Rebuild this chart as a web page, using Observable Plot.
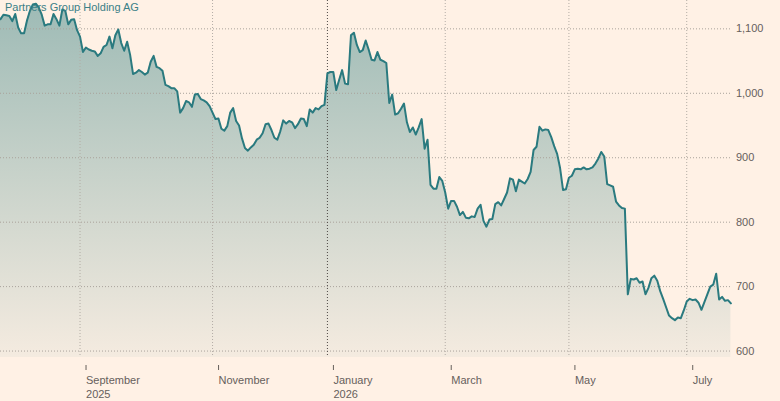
<!DOCTYPE html>
<html>
<head>
<meta charset="utf-8">
<script src="https://cdn.jsdelivr.net/npm/d3@7"></script>
<script src="https://cdn.jsdelivr.net/npm/@observablehq/plot@0.6"></script>
<style>
  html, body { margin: 0; padding: 0; background: #fff1e5; }
  #wrap { position: relative; width: 780px; height: 401px; overflow: hidden; }
  #title { position: absolute; left: 5px; top: 2px; font: 11px/11px "Liberation Sans", Arial, sans-serif; color: #3b8087; white-space: nowrap; }
</style>
</head>
<body>
<div id="wrap">
  <div id="chart"></div>
  <div id="title">Partners Group Holding AG</div>
</div>
<script>
// Daily closing prices (CHF), one per SIX trading day, from 23 Jul 2025 onward
const prices = [
  1115, 1122, 1121, 1120, 1112, 1123, 1102, 1093, 1093, 1113,
  1128, 1138, 1139, 1133, 1122, 1105, 1107, 1107, 1123, 1115,
  1105, 1130, 1128, 1107, 1114, 1115, 1098, 1088, 1064, 1071,
  1068, 1066, 1065, 1058, 1062, 1072, 1075, 1088, 1070, 1090,
  1099, 1078, 1066, 1080, 1060, 1030, 1032, 1036, 1033, 1029,
  1032, 1049, 1058, 1041, 1039, 1035, 1013, 1011, 1008, 1008,
  1003, 970, 977, 988, 986, 979, 998, 999, 991, 989,
  986, 980, 970, 960, 961, 945, 942, 949, 970, 977,
  957, 950, 930, 915, 911, 916, 920, 928, 931, 938,
  952, 953, 943, 931, 928, 941, 958, 953, 957, 955,
  946, 952, 961, 960, 949, 975, 970, 977, 975, 980,
  982, 1031, 1033, 1033, 1005, 1021, 1036, 1015, 1014, 1090,
  1094, 1075, 1064, 1067, 1082, 1068, 1052, 1051, 1064, 1052,
  1050, 1047, 985, 998, 967, 969, 976, 984, 955, 940,
  947, 936, 947, 960, 914, 928, 858, 852, 852, 870,
  864, 846, 821, 833, 833, 824, 811, 816, 807, 806,
  809, 808, 821, 827, 802, 793, 804, 805, 828, 831,
  826, 836, 846, 868, 866, 848, 866, 863, 860, 867,
  878, 912, 917, 948, 942, 944, 943, 932, 918, 906,
  884, 850, 851, 869, 872, 882, 883, 882, 885, 882,
  883, 885, 891, 899, 909, 902, 859, 857, 855, 832,
  826, 822, 821, 688, 712, 711, 713, 706, 708, 688,
  698, 713, 717, 709, 693, 681, 668, 655, 651, 648,
  652, 651, 663, 677, 681, 679, 680, 675, 664, 676,
  688, 700, 703, 720, 680, 684, 678, 679, 674
];

// Trading-day index of the first session of each labelled month
const monthTickDays = [27, 72, 111, 151, 193, 233];
const monthTickLabels = ["September\n2025", "November", "January\n2026", "March", "May", "July"];
const yearStartDays = [111];
const priceTicks = [600, 700, 800, 900, 1000, 1100];

const data = prices.map((p, i) => ({day: i, price: p}));
const yMin = 590, yMax = 1144;

const svg = Plot.plot({
  width: 780,
  height: 401,
  marginLeft: 0,
  marginRight: 49.6,
  marginTop: 0,
  marginBottom: 44,
  style: {background: "transparent", fontFamily: "'Liberation Sans', Arial, sans-serif", fontSize: "11px", color: "#66605c", overflow: "visible"},
  x: {domain: [0, prices.length - 1], label: null},
  y: {domain: [yMin, yMax], label: null},
  marks: [
    Plot.areaY(data, {x: "day", y1: yMin, y2: "price", fill: "url(#ftGrad)"}),
    Plot.gridY(priceTicks, {stroke: "#a9a29b", strokeOpacity: 1, strokeDasharray: "1,2"}),
    Plot.gridX(monthTickDays.filter(d => !yearStartDays.includes(d)), {stroke: "#b3aca5", strokeOpacity: 1, strokeDasharray: "1,2"}),
    Plot.ruleX(yearStartDays, {stroke: "#4d4845", strokeDasharray: "1,2"}),
    Plot.lineY(data, {x: "day", y: "price", stroke: "#2a7a7f", strokeWidth: 2, strokeLinejoin: "round"}),
    Plot.axisY(priceTicks, {anchor: "right", tickSize: 0, tickPadding: 5, tickFormat: d3.format(","), textAnchor: "start", label: null}),
    Plot.axisX(monthTickDays, {
      anchor: "bottom", tickSize: 5, dy: 8, tickPadding: 3,
      textAnchor: "start", dx: 6, lineHeight: 1.3, label: null,
      tickFormat: d => monthTickLabels[monthTickDays.indexOf(d)]
    })
  ]
});

const defs = d3.select(svg).insert("defs", ":first-child");
const grad = defs.append("linearGradient")
  .attr("id", "ftGrad")
  .attr("gradientUnits", "userSpaceOnUse")
  .attr("x1", 0).attr("y1", 0).attr("x2", 0).attr("y2", 357);
grad.append("stop").attr("offset", "0%").attr("stop-color", "#2a7a7d").attr("stop-opacity", 0.46);
grad.append("stop").attr("offset", "100%").attr("stop-color", "#2a7a7d").attr("stop-opacity", 0.05);

document.getElementById("chart").appendChild(svg);
</script>
</body>
</html>
